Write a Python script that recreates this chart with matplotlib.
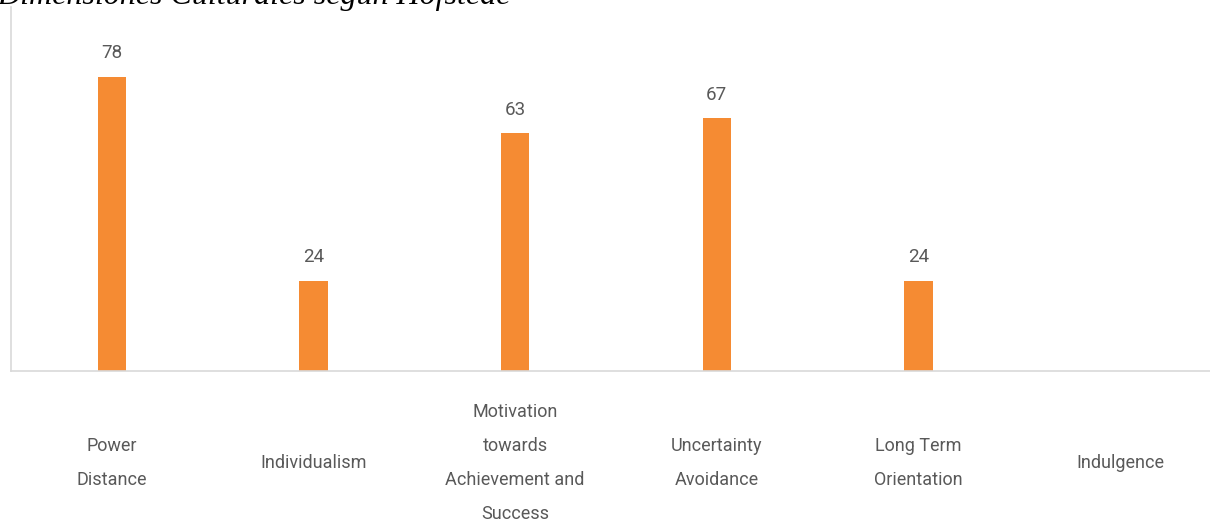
import numpy as np
import matplotlib.pyplot as plt

# Hofstede scores per dimension (Indulgence has no score)
dimensions = ["Power\nDistance", "Individualism",
              "Motivation\ntowards\nAchievement and\nSuccess",
              "Uncertainty\nAvoidance", "Long Term\nOrientation", "Indulgence"]
scores = [78, 24, 63, 67, 24, np.nan]

bar_color = "#F58B33"
text_color = "#595959"
label_font = ["Roboto", "DejaVu Sans"]

W, H = 1210, 521
fig = plt.figure(figsize=(W / 100, H / 100), dpi=100)

# axes placed in pixel terms: left edge 11px, baseline at 371px, top at 7px
left, right, top, base = 11, 1221, 7, 371
ax = fig.add_axes([left / W, 1 - base / H, (right - left) / W, (base - top) / H])

x = np.arange(len(dimensions))
ax.bar(x, np.nan_to_num(scores), width=0.14, color=bar_color)

ax.set_xlim(-0.5, len(dimensions) - 0.5)
ax.set_ylim(0, (base - top) / 3.77)

for s in ["top", "right"]:
    ax.spines[s].set_visible(False)
for s in ["left", "bottom"]:
    ax.spines[s].set_color("#D9D9D9")
    ax.spines[s].set_linewidth(1.2)
ax.set_xticks([])
ax.set_yticks([])

# value labels above each bar
for xi, v in zip(x, scores):
    if np.isnan(v):
        continue
    ax.annotate(f"{v:.0f}", (xi, v), xytext=(0, 17), textcoords="offset points",
                ha="center", va="center", fontsize=13.5, color=text_color,
                family=label_font)

# category labels centred below the baseline
for xi, name in zip(x, dimensions):
    ax.text(xi, -92 / (base - top), name, transform=ax.get_xaxis_transform(),
            ha="center", va="center", fontsize=13, color=text_color,
            linespacing=2.13, family=label_font)

fig.text(-0.002, 1 - 4 / H, "Dimensiones Culturales según Hofstede",
         ha="left", va="baseline", fontsize=23, style="italic",
         family=["Liberation Serif", "DejaVu Serif"], color="black")

fig.savefig("out.png", dpi=100, facecolor="white")
